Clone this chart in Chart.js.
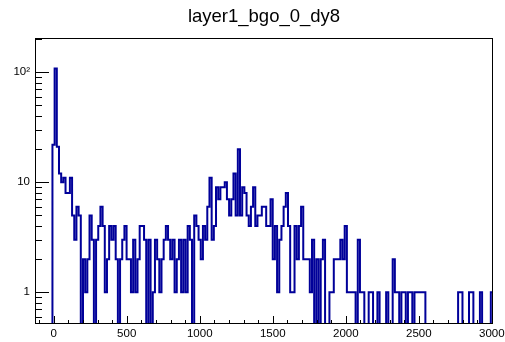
<!DOCTYPE html>
<html><head><meta charset="utf-8">
<script src="https://cdn.jsdelivr.net/npm/chart.js@4.4.1/dist/chart.umd.min.js"></script>
<style>html,body{margin:0;padding:0;background:#fff}canvas{display:block}</style>
</head><body>
<canvas id="c" width="505" height="342"></canvas>
<script>
const chartTitle = 'layer1_bgo_0_dy8';
const binLow = -128;
const binHigh = 3008;
const nBins = 210;
const counts = [
  0,0,0,0,0,0,0,0,
  22,108,21,12,10,11,8,8,11,5,
  3,6,5,0,2,1,2,5,3,0,
  3,4,6,4,1,2,4,3,4,2,
  0,2,3,4,2,2,1,3,1,2,
  4,4,3,0,3,0,1,3,2,1,
  2,3,4,3,2,3,1,2,3,1,
  3,1,4,3,0,5,4,3,2,4,
  3,6,11,3,4,9,7,9,9,10,
  7,5,7,12,5,20,5,9,8,5,
  4,6,9,4,5,5,6,6,4,4,
  7,2,4,1,3,4,6,8,4,1,
  1,4,2,4,6,2,2,2,1,3,
  0,2,0,2,3,0,0,1,1,2,
  2,2,3,2,4,1,1,1,1,0,
  3,1,1,0,0,1,1,0,0,1,
  0,0,0,1,0,0,2,1,1,0,
  1,1,0,1,1,0,1,1,1,1,
  1,0,0,0,0,0,0,0,0,0,
  0,0,0,0,0,0,1,1,0,0,
  0,1,1,0,0,0,1,0,0,0,
  0,1
];
const xTickValues = [0,500,1000,1500,2000,2500,3000];
const xTickLabels = ['0','500','1000','1500','2000','2500','3000'];
const yTickValues = [1,10,100];
const yTickLabels = ['1','10','10\u00B2'];
const yMin = 0.515, yMax = 205;

const FONT = "'Liberation Sans', Arial, Helvetica, sans-serif";
const LINE = '#000099';

// histogram outline points at bin edges (zero bins drop below the frame)
const binW = (binHigh - binLow) / nBins;
const pts = [];
for (let i = 0; i < nBins; i++) {
  pts.push({x: binLow + i * binW, y: counts[i] > 0 ? counts[i] : 0.05});
}
pts.push({x: binHigh, y: counts[nBins-1] > 0 ? counts[nBins-1] : 0.05});

const bg = {id:'bg', beforeDraw(c){const x=c.ctx;x.save();x.fillStyle='#fff';x.fillRect(0,0,c.width,c.height);x.restore();}};

const frame = {id:'frame', afterDatasetsDraw(chart){
  const {ctx, chartArea:a, scales:{x, y}} = chart;
  ctx.save();
  ctx.strokeStyle = '#000';
  ctx.lineWidth = 1;
  ctx.beginPath();
  for (let v = -100; v <= 3000; v += 100) {
    const px = Math.round(x.getPixelForValue(v)) + 0.5;
    const len = (v % 500 === 0) ? 8 : 4;
    ctx.moveTo(px, a.bottom); ctx.lineTo(px, a.bottom - len);
  }
  for (let d = -1; d <= 2; d++) {
    for (let m = 1; m <= 9; m++) {
      const v = m * Math.pow(10, d);
      if (v < y.min || v > y.max) continue;
      const py = Math.round(y.getPixelForValue(v)) + 0.5;
      const len = (m === 1) ? 14 : 7;
      ctx.moveTo(a.left, py); ctx.lineTo(a.left + len, py);
    }
  }
  ctx.stroke();
  ctx.strokeRect(Math.round(a.left) + 0.5, Math.round(a.top) + 0.5, Math.round(a.width) - 1, Math.round(a.height) - 1);
  ctx.restore();
}};

new Chart(document.getElementById('c'), {
  type: 'line',
  data: {datasets: [{
    data: pts,
    stepped: true,
    borderColor: LINE,
    borderWidth: 2,
    pointRadius: 0,
    fill: false,
    tension: 0,
    clip: 0,
    borderJoinStyle: 'miter',
    borderCapStyle: 'butt'
  }]},
  options: {
    responsive: false,
    animation: false,
    devicePixelRatio: 1,
    layout: {padding: {left: 0, right: 12, top: 0, bottom: 0}, autoPadding: false},
    plugins: {
      legend: {display: false},
      tooltip: {enabled: false},
      title: {display: true, text: chartTitle, fullSize: false, color: '#000',
        font: {family: FONT, size: 18.5, weight: 'normal'}, padding: {top: 5.8, bottom: 10}}
    },
    scales: {
      x: {
        type: 'linear', min: binLow, max: binHigh,
        grid: {display: false, drawTicks: false}, border: {display: false},
        afterBuildTicks: s => { s.ticks = xTickValues.map(v => ({value: v})); },
        afterFit: s => { s.height = 18; s.paddingLeft = 0; s.paddingRight = 0; },
        ticks: {autoSkip: false, maxRotation: 0, padding: 3, color: '#000',
          font: {family: FONT, size: 11.5}, callback: (v, i) => xTickLabels[i]}
      },
      y: {
        type: 'logarithmic', min: yMin, max: yMax,
        grid: {display: false, drawTicks: false}, border: {display: false},
        afterBuildTicks: s => { s.ticks = yTickValues.map(v => ({value: v})); },
        afterFit: s => { s.width = 35; s.paddingTop = 0; s.paddingBottom = 0; },
        ticks: {autoSkip: false, padding: 5, color: '#000',
          font: {family: FONT, size: 11.5}, callback: (v, i) => yTickLabels[i]}
      }
    }
  },
  plugins: [bg, frame]
});
</script>
</body></html>
